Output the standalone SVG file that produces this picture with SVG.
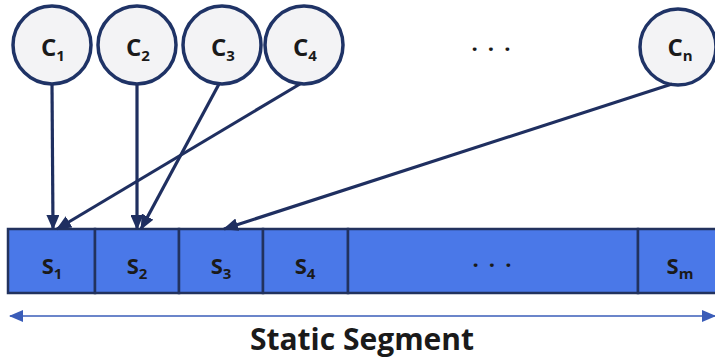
<svg xmlns="http://www.w3.org/2000/svg" width="715" height="360" viewBox="0 0 715 360">
<style>
.node circle{fill:#F3F3F5;stroke:#1F3366;stroke-width:3.5}
.lbl{font-family:"Open Sans","Liberation Sans",sans-serif;font-weight:bold;fill:#1A1A1A;text-anchor:middle}
.cl{font-size:24px}
.sl{font-size:22px}
.sub{font-size:15px}
.cell rect{fill:#4A78E8;stroke:#22325E;stroke-width:2.5}
.conn line{stroke:#1F2F60;stroke-width:3.2}
.dim{stroke:#3A5CB8;stroke-width:1.6}
</style>
<defs>
<marker id="ah" markerUnits="userSpaceOnUse" markerWidth="15" markerHeight="13" refX="14" refY="6.5" orient="auto">
<path d="M0,0 L15,6.5 L0,13 Z" fill="#1F2F60"/>
</marker>
<marker id="dh" markerUnits="userSpaceOnUse" markerWidth="14" markerHeight="12" refX="13" refY="6" orient="auto-start-reverse">
<path d="M0,0 L14,6 L0,12 Z" fill="#3A5CB8"/>
</marker>
</defs>

<g id="segment">
<g id="S1" class="cell"><rect x="8" y="229" width="87" height="64"/><text class="lbl sl" x="52" y="274">S<tspan class="sub" dy="5">1</tspan></text></g>
<g id="S2" class="cell"><rect x="95" y="229" width="84" height="64"/><text class="lbl sl" x="137" y="274">S<tspan class="sub" dy="5">2</tspan></text></g>
<g id="S3" class="cell"><rect x="179" y="229" width="84" height="64"/><text class="lbl sl" x="221" y="274">S<tspan class="sub" dy="5">3</tspan></text></g>
<g id="S4" class="cell"><rect x="263" y="229" width="85" height="64"/><text class="lbl sl" x="305" y="274">S<tspan class="sub" dy="5">4</tspan></text></g>
<g id="Sdots" class="cell"><rect x="348" y="229" width="290" height="64"/><text class="lbl sl" x="497" y="267" letter-spacing="10">...</text></g>
<g id="Sm" class="cell"><rect x="638" y="229" width="82" height="64"/><text class="lbl sl" x="680" y="274">S<tspan class="sub" dy="5">m</tspan></text></g>
</g>

<g id="C1" class="node"><circle cx="52" cy="45" r="39"/><text class="lbl cl" x="53" y="56">C<tspan class="sub" dy="5">1</tspan></text></g>
<g id="C2" class="node"><circle cx="137" cy="45" r="39"/><text class="lbl cl" x="138" y="56">C<tspan class="sub" dy="5">2</tspan></text></g>
<g id="C3" class="node"><circle cx="222" cy="45" r="39"/><text class="lbl cl" x="223" y="56">C<tspan class="sub" dy="5">3</tspan></text></g>
<g id="C4" class="node"><circle cx="304" cy="45" r="39"/><text class="lbl cl" x="305" y="56">C<tspan class="sub" dy="5">4</tspan></text></g>
<g id="Cdots"><text class="lbl sl" x="496" y="51" letter-spacing="10">...</text></g>
<g id="Cn" class="node"><circle cx="678" cy="47" r="38"/><text class="lbl cl" x="680" y="56">C<tspan class="sub" dy="5">n</tspan></text></g>

<g id="connectors" class="conn">
<line x1="52" y1="84" x2="53" y2="229" marker-end="url(#ah)"/>
<line x1="137" y1="84" x2="137" y2="229" marker-end="url(#ah)"/>
<line x1="219" y1="84" x2="141" y2="229" marker-end="url(#ah)"/>
<line x1="300" y1="84" x2="57" y2="229" marker-end="url(#ah)"/>
<line x1="672" y1="84" x2="224" y2="229" marker-end="url(#ah)"/>
</g>

<g id="dimension">
<line class="dim" x1="10" y1="316" x2="715" y2="316" marker-start="url(#dh)" marker-end="url(#dh)"/>
<text class="lbl" x="362" y="350" font-size="30">Static Segment</text>
</g>
</svg>
